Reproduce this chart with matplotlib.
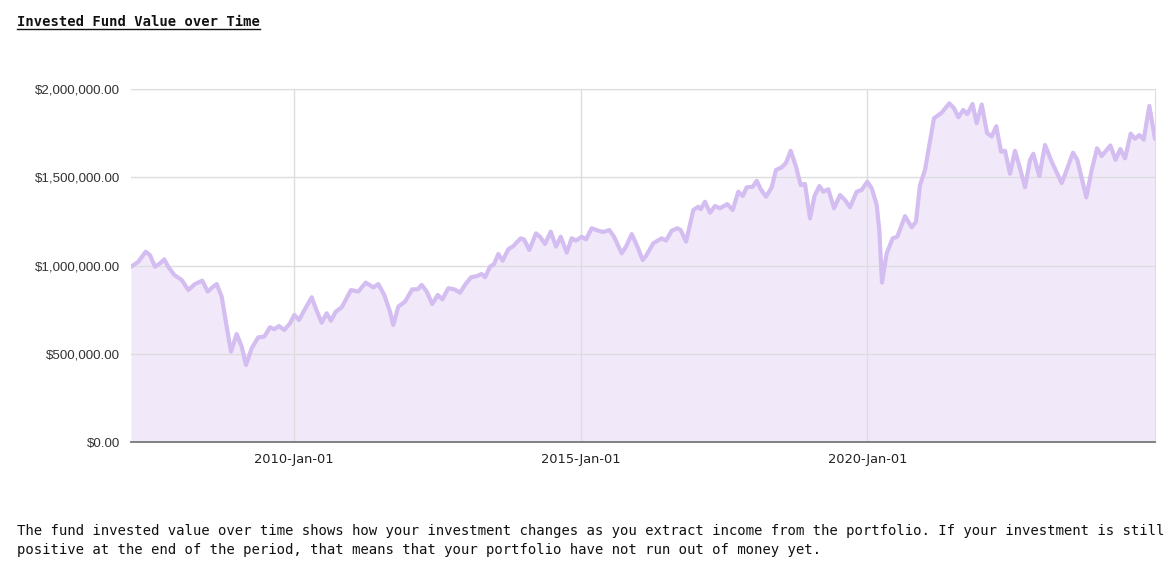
import matplotlib
matplotlib.use("Agg")
import matplotlib.pyplot as plt
from matplotlib.lines import Line2D
from matplotlib.ticker import FuncFormatter

# ---- data (decimal years, fund value in dollars) ----
years = [
    2007.157, 2007.284, 2007.413, 2007.488, 2007.575, 2007.663, 2007.738, 2007.807, 2007.912, 2008.041,
    2008.156, 2008.273, 2008.400, 2008.495, 2008.575, 2008.652, 2008.739, 2008.826, 2008.901, 2009.000,
    2009.088, 2009.163, 2009.262, 2009.377, 2009.482, 2009.581, 2009.656, 2009.738, 2009.831, 2009.930,
    2010.005, 2010.087, 2010.183, 2010.309, 2010.379, 2010.483, 2010.570, 2010.645, 2010.727, 2010.832,
    2010.994, 2011.122, 2011.251, 2011.383, 2011.470, 2011.575, 2011.675, 2011.732, 2011.819, 2011.936,
    2012.063, 2012.158, 2012.227, 2012.315, 2012.412, 2012.507, 2012.587, 2012.691, 2012.796, 2012.896,
    2012.983, 2013.087, 2013.187, 2013.274, 2013.332, 2013.419, 2013.489, 2013.564, 2013.640, 2013.738,
    2013.825, 2013.954, 2014.012, 2014.104, 2014.221, 2014.291, 2014.378, 2014.478, 2014.570, 2014.652,
    2014.757, 2014.844, 2014.919, 2015.018, 2015.093, 2015.193, 2015.308, 2015.395, 2015.500, 2015.582,
    2015.716, 2015.791, 2015.891, 2015.978, 2016.082, 2016.140, 2016.267, 2016.414, 2016.489, 2016.588,
    2016.686, 2016.745, 2016.838, 2016.965, 2017.052, 2017.094, 2017.169, 2017.256, 2017.343, 2017.431,
    2017.558, 2017.652, 2017.750, 2017.827, 2017.896, 2018.001, 2018.071, 2018.141, 2018.233, 2018.332,
    2018.407, 2018.507, 2018.582, 2018.664, 2018.756, 2018.838, 2018.913, 2019.001, 2019.079, 2019.163,
    2019.233, 2019.320, 2019.419, 2019.524, 2019.611, 2019.698, 2019.815, 2019.902, 2020.000, 2020.077,
    2020.164, 2020.209, 2020.256, 2020.338, 2020.443, 2020.523, 2020.658, 2020.774, 2020.849, 2020.919,
    2021.006, 2021.163, 2021.298, 2021.430, 2021.512, 2021.587, 2021.674, 2021.744, 2021.835, 2021.908,
    2021.996, 2022.088, 2022.170, 2022.250, 2022.332, 2022.402, 2022.489, 2022.576, 2022.663, 2022.751,
    2022.838, 2022.896, 2023.000, 2023.100, 2023.216, 2023.391, 2023.489, 2023.588, 2023.663, 2023.820,
    2023.914, 2024.007, 2024.088, 2024.239, 2024.330, 2024.413, 2024.495, 2024.594, 2024.669, 2024.745,
    2024.821, 2024.919, 2025.018,
]
values_k = [
    993, 1021, 1078, 1059, 993, 1012, 1035, 993, 946, 918,
    861, 895, 914, 852, 876, 895, 823, 653, 512, 612,
    540, 436, 531, 593, 597, 650, 639, 657, 635, 672,
    720, 691, 748, 820, 757, 676, 729, 687, 738, 763,
    861, 852, 903, 876, 895, 833, 738, 663, 767, 795,
    865, 865, 890, 852, 782, 833, 808, 871, 865, 846,
    890, 933, 940, 952, 933, 993, 1008, 1065, 1027, 1092,
    1110, 1154, 1148, 1088, 1182, 1163, 1122, 1192, 1107, 1163,
    1073, 1154, 1141, 1163, 1148, 1211, 1197, 1190, 1201, 1163,
    1069, 1107, 1178, 1116, 1031, 1054, 1126, 1154, 1141, 1197,
    1211, 1201, 1135, 1314, 1333, 1318, 1361, 1299, 1337, 1324,
    1348, 1314, 1418, 1394, 1443, 1446, 1480, 1432, 1390, 1443,
    1541, 1556, 1582, 1650, 1560, 1456, 1462, 1267, 1394, 1450,
    1418, 1432, 1324, 1399, 1371, 1330, 1418, 1428, 1475, 1437,
    1343, 1201, 903, 1069, 1154, 1163, 1280, 1216, 1248, 1456,
    1541, 1834, 1866, 1919, 1891, 1840, 1881, 1858, 1915, 1806,
    1912, 1751, 1731, 1789, 1645, 1650, 1520, 1650, 1551, 1443,
    1598, 1633, 1507, 1683, 1588, 1467, 1551, 1639, 1598, 1386,
    1541, 1664, 1620, 1680, 1599, 1660, 1607, 1747, 1718, 1739,
    1713, 1904, 1717,
]
values = [v * 1000 for v in values_k]

tick_years = [2010, 2015, 2020]
tick_labels = ["2010-Jan-01", "2015-Jan-01", "2020-Jan-01"]
y_ticks = [0, 500000, 1000000, 1500000, 2000000]

title = "Invested Fund Value over Time"
caption = ("The fund invested value over time shows how your investment changes as you extract income from the portfolio. If your investment is still\n"
           "positive at the end of the period, that means that your portfolio have not run out of money yet.")

W, H = 1170, 573
fig = plt.figure(figsize=(W / 100, H / 100), dpi=100)
ax = fig.add_axes([131 / W, 1 - 442 / H, (1155 - 131) / W, (442 - 89) / H])

line_color = "#d4bdf1"
fill_color = "#f1e9fa"
ax.fill_between(years, values, 0, color=fill_color, linewidth=0, zorder=1)
ax.plot(years, values, color=line_color, linewidth=3.0, solid_joinstyle="round",
        solid_capstyle="round", zorder=3)

ax.set_xlim(years[0], years[-1])
ax.set_ylim(0, 2000000)
ax.set_xticks(tick_years)
ax.set_xticklabels(tick_labels)
ax.set_yticks(y_ticks)
ax.yaxis.set_major_formatter(FuncFormatter(lambda v, p: "${:,.2f}".format(v)))

ax.grid(True, color="#dddddd", linewidth=1.0, zorder=2)
ax.set_axisbelow(False)
for gl in ax.get_xgridlines() + ax.get_ygridlines():
    gl.set_zorder(2)

ax.tick_params(axis="both", length=0)
ax.tick_params(axis="x", pad=8, labelsize=9.4, labelcolor="#222222")
ax.tick_params(axis="y", pad=8, labelsize=9.6, labelcolor="#333333")
for lbl in ax.get_yticklabels():
    lbl.set_fontfamily("Liberation Sans")
for lbl in ax.get_xticklabels():
    lbl.set_fontfamily("DejaVu Sans")

ax.spines["left"].set_visible(False)
ax.spines["top"].set_color("#dddddd")
ax.spines["right"].set_color("#dddddd")
ax.spines["bottom"].set_color("#777777")
ax.spines["bottom"].set_linewidth(1.3)
ax.spines["bottom"].set_zorder(4)

t = fig.text(17 / W, 1 - 22 / H, title, fontfamily="DejaVu Sans Mono", fontweight="bold",
             fontsize=10.0, color="#111111", ha="left", va="center")
fig.text(17 / W, 1 - 524 / H, caption, fontfamily="DejaVu Sans Mono", fontsize=10.05,
         color="#111111", ha="left", va="top", linespacing=1.42)

fig.canvas.draw()
bb = t.get_window_extent()
uy = (bb.y0 + 0.5) / H
fig.add_artist(Line2D([bb.x0 / W, bb.x1 / W], [uy, uy], transform=fig.transFigure,
                      color="#111111", linewidth=1.0))

fig.savefig("out.png", dpi=100)
